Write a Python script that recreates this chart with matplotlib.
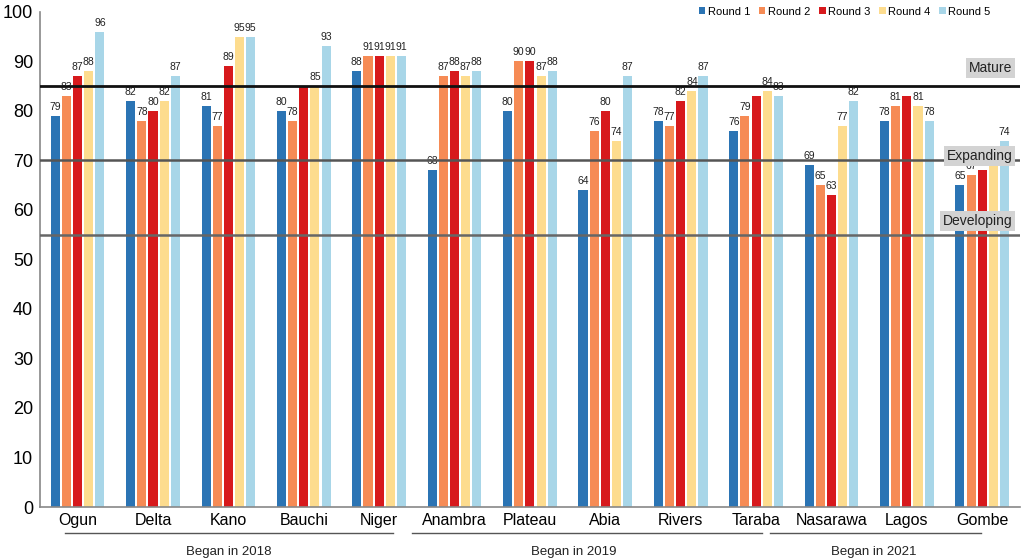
import matplotlib
matplotlib.use("Agg")
import matplotlib.pyplot as plt
import numpy as np

plt.rcParams["font.family"] = ["Liberation Sans", "DejaVu Sans"]

STATES = ["Ogun", "Delta", "Kano", "Bauchi", "Niger", "Anambra", "Plateau",
          "Abia", "Rivers", "Taraba", "Nasarawa", "Lagos", "Gombe"]
ROUNDS = ["Round 1", "Round 2", "Round 3", "Round 4", "Round 5"]
COLORS = ["#2b74b4", "#f68b55", "#d7191c", "#fddc8e", "#a8d6e8"]

round1 = [79, 82, 81, 80, 88, 68, 80, 64, 78, 76, 69, 78, 65]
round2 = [83, 78, 77, 78, 91, 87, 90, 76, 77, 79, 65, 81, 67]
round3 = [87, 80, 89, 85, 91, 88, 90, 80, 82, 83, 63, 83, 68]
round4 = [88, 82, 95, 85, 91, 87, 87, 74, 84, 84, 77, 81, 70]
round5 = [96, 87, 95, 93, 91, 88, 88, 87, 87, 83, 82, 78, 74]
SERIES = [round1, round2, round3, round4, round5]

# value labels that the original leaves off (state index, round index)
HIDDEN_LABELS = {(3, 2), (9, 2), (11, 2), (12, 2), (12, 3)}

# name, line level, line colour, line width, label centre
THRESHOLDS = [("Mature", 85, "#111111", 2.0, 88.6),
              ("Expanding", 70, "#555555", 1.8, 70.9),
              ("Developing", 55, "#666666", 1.8, 57.7)]

GROUPS = [("Began in 2018", -0.17, 4.18, 2.0),
          ("Began in 2019", 4.43, 9.08, 6.58),
          ("Began in 2021", 9.18, 11.99, 10.56)]

fig = plt.figure(figsize=(10.24, 5.59), dpi=100)
ax = fig.add_axes([0.039, 0.093, 0.957, 0.886])

x = np.arange(len(STATES))
step = 0.148
width = 0.12
for i, (name, vals, col) in enumerate(zip(ROUNDS, SERIES, COLORS)):
    pos = x + (i - 2) * step
    ax.bar(pos, vals, width=width, color=col, label=name, zorder=2)
    for j, (p, v) in enumerate(zip(pos, vals)):
        if (j, i) in HIDDEN_LABELS:
            continue
        ax.text(p, v + 0.8, str(v), ha="center", va="bottom", fontsize=7.5,
                color="#222222", zorder=3)

for name, y, col, lw, ty in THRESHOLDS:
    ax.axhline(y, color=col, linewidth=lw, zorder=4)
    ax.text(12.4, ty, name, ha="right", va="center", fontsize=10,
            color="#222222", zorder=6, clip_on=False,
            bbox=dict(boxstyle="square,pad=0.22", facecolor="#d3d3d3",
                      edgecolor="none"))

ax.set_xlim(-0.5, 12.5)
ax.set_ylim(0, 100)
ax.set_yticks(range(0, 101, 10))
ax.set_xticks(x)
ax.set_xticklabels(STATES, fontsize=11.5)
ax.tick_params(axis="y", labelsize=13, length=0, pad=5)
ax.tick_params(axis="x", length=0, pad=4)
for s in ["top", "right"]:
    ax.spines[s].set_visible(False)
for s in ["left", "bottom"]:
    ax.spines[s].set_color("#888888")
    ax.spines[s].set_linewidth(1.2)

for label, x0, x1, xc in GROUPS:
    ax.plot([x0, x1], [-0.052, -0.052], transform=ax.get_xaxis_transform(),
            color="#555555", linewidth=1.0, clip_on=False)
    ax.text(xc, -0.078, label, transform=ax.get_xaxis_transform(),
            ha="center", va="top", fontsize=9.5, color="#222222")

ax.legend(loc="upper right", bbox_to_anchor=(0.98, 1.03), ncol=5, frameon=False,
          fontsize=8, handlelength=0.6, handleheight=0.6, handletextpad=0.2,
          columnspacing=0.8)

fig.savefig("out.png", dpi=100)
